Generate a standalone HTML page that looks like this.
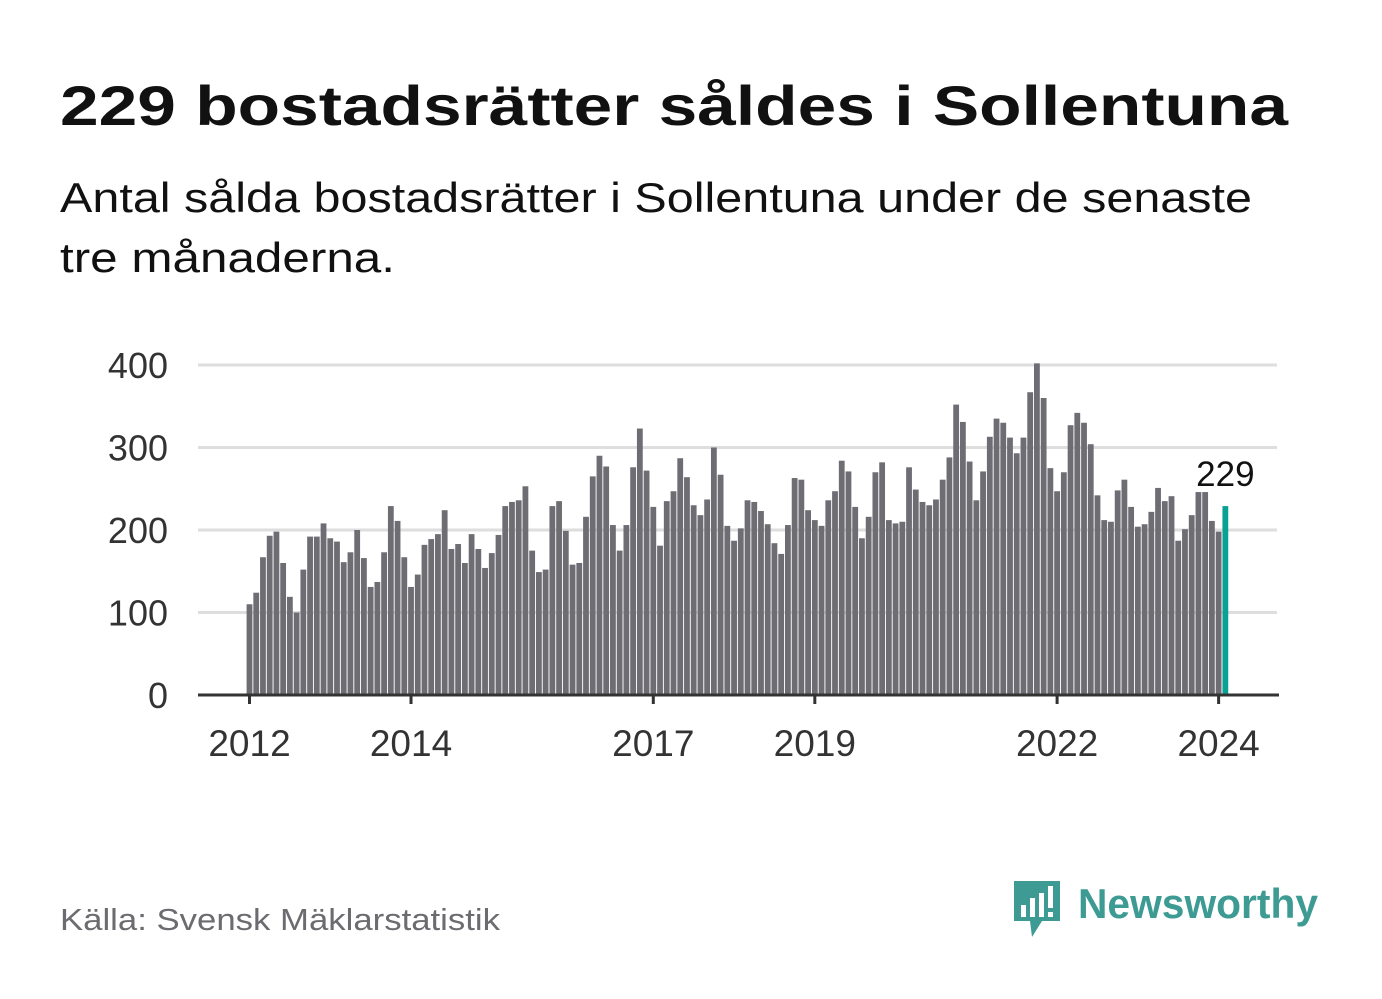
<!DOCTYPE html>
<html><head><meta charset="utf-8"><style>
html,body{margin:0;padding:0;background:#fff;}
svg{display:block;font-family:"Liberation Sans",sans-serif;}
</style></head><body>
<svg id="chart" width="1382" height="999" viewBox="0 0 1382 999">
<text x="60" y="125" font-size="56" font-weight="bold" fill="#111" textLength="1228" lengthAdjust="spacingAndGlyphs">229 bostadsrätter såldes i Sollentuna</text>
<text x="60" y="212" font-size="42" fill="#111" textLength="1192" lengthAdjust="spacingAndGlyphs">Antal sålda bostadsrätter i Sollentuna under de senaste</text>
<text x="60" y="272" font-size="42" fill="#111" textLength="335" lengthAdjust="spacingAndGlyphs">tre månaderna.</text>
<g id="grid"></g>
<g id="bars"></g>
<g id="axes"></g>
<text x="60" y="930" font-size="31" fill="#6b6b70" textLength="440" lengthAdjust="spacingAndGlyphs">Källa: Svensk Mäklarstatistik</text>
<g>
<path d="M1014 881 h46 v40 h-18 l-10 16 l-2 -16 h-16 z" fill="#3d9b94"/>
<rect x="1021" y="905" width="5" height="12" fill="#fff"/>
<rect x="1030" y="898" width="5" height="19" fill="#fff"/>
<rect x="1039" y="893" width="5" height="24" fill="#fff"/>
<rect x="1048" y="886" width="5" height="22" fill="#fff"/>
<rect x="1048" y="912" width="5" height="5" fill="#fff"/>
<text x="1078" y="918" font-size="42" font-weight="bold" fill="#3d9b94" textLength="240" lengthAdjust="spacingAndGlyphs">Newsworthy</text>
</g>
</svg>
<script>
const values = [110,124,167,193,198,160,119,100,152,192,192,208,190,186,161,173,200,166,131,137,173,229,211,167,131,146,182,189,195,224,177,183,160,195,177,154,
172,194,229,234,236,253,175,149,152,229,235,199,158,160,216,265,290,277,206,175,206,276,323,272,228,181,235,247,287,264,230,218,237,300,267,205,187,
202,236,234,223,207,184,171,206,263,261,224,212,205,236,247,284,271,228,190,216,270,282,212,208,210,276,249,234,230,237,261,288,352,331,283,236,
271,313,335,330,312,293,312,367,402,360,275,247,270,327,342,330,304,242,212,210,248,261,228,204,207,222,251,235,241,187,201,218,246,246,211,198,229];
const yTicks = [0,100,200,300,400];
const xTickYears = [2012,2014,2017,2019,2022,2024];
const startYear = 2012;
const NS='http://www.w3.org/2000/svg';
const X0=249.5, STEP=6.73, Y0=695, YK=0.825;
const xScale = i => X0 + i*STEP;
const yScale = v => Y0 - v*YK;
function mk(tag, attrs, parent){const e=document.createElementNS(NS,tag);for(const k in attrs)e.setAttribute(k,attrs[k]);parent.appendChild(e);return e;}
const grid=document.getElementById('grid'), bars=document.getElementById('bars'), axes=document.getElementById('axes');
yTicks.forEach(t=>{
  if(t>0){const l=mk('line',{x1:198,x2:1277,y1:yScale(t),y2:yScale(t),stroke:'#dedede','stroke-width':3},grid);
  
  }
  const tx=mk('text',{x:168,y:yScale(t)+13,'font-size':36,'text-anchor':'end',fill:'#333'},axes);
  tx.textContent=t;
  
  
});
values.forEach((v,i)=>{
  const last=i===values.length-1;
  const r=mk('rect',{x:xScale(i)-2.9,y:yScale(v),width:5.8,height:v*YK,fill:last?'#0aa195':'#6e6d73'},bars);
  
  
});
const lv=values[values.length-1];
const lab=mk('text',{x:xScale(values.length-1),y:yScale(lv)-20,'font-size':35,'text-anchor':'middle',fill:'#111'},axes);
lab.textContent=lv;


const base=mk('line',{x1:198,x2:1279,y1:Y0,y2:Y0,stroke:'#333','stroke-width':3},axes);


xTickYears.forEach(y=>{
  const x=xScale((y-startYear)*12);
  const t=mk('line',{x1:x,x2:x,y1:Y0,y2:Y0+9,stroke:'#333','stroke-width':3},axes);
  
  
  const tx=mk('text',{x:x,y:756,'font-size':37,'text-anchor':'middle',fill:'#333'},axes);
  tx.textContent=y;
  
  
});
</script>
</body></html>
